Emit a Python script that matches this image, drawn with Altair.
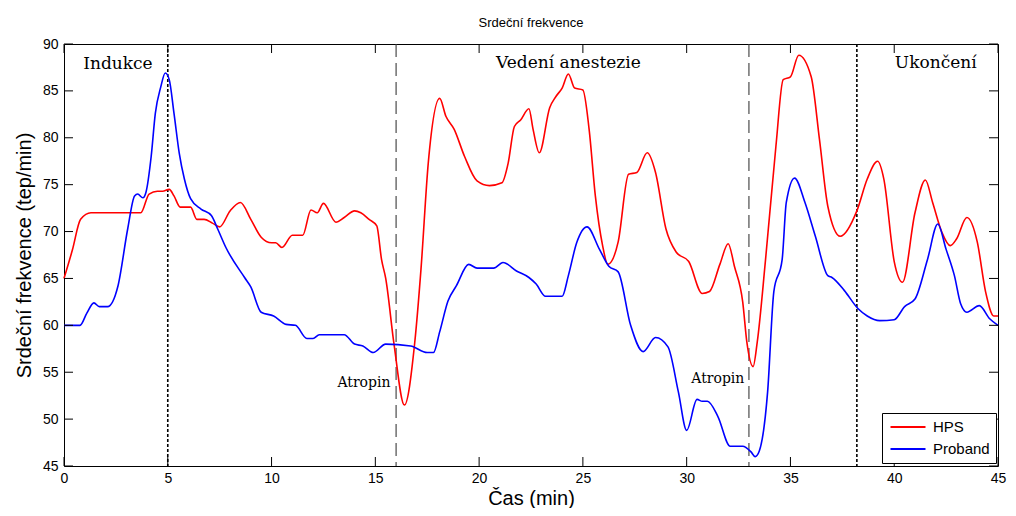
import altair as alt
import pandas as pd

# ---- data ----
hps_t = [0, 0.4, 0.8, 1.3, 2.5, 3.7, 4.1, 4.5, 4.75, 5.07, 5.3, 5.6, 6.1, 6.4, 6.75, 7.15, 7.5, 8.0, 8.5, 9.0,
         9.5, 10.0, 10.2, 10.5, 11.0, 11.5, 11.9, 12.2, 12.5, 13.1, 13.5, 14.0, 14.3, 14.7, 15.07, 15.3, 15.5, 15.9, 16.4, 16.9,
         17.2, 17.55, 18.1, 18.4, 18.8, 19.3, 19.9, 20.5, 21.1, 21.4, 21.7, 22.0, 22.4, 22.6, 22.9, 23.4, 23.7, 24.0, 24.3, 24.6,
         25.0, 25.3, 25.6, 25.95, 26.2, 26.7, 27.2, 27.6, 28.1, 28.5, 29.0, 29.5, 30.1, 30.75, 31.1, 31.6, 32.0, 32.3, 32.7, 32.9,
         33.2, 33.4, 33.8, 34.3, 34.65, 35.0, 35.4, 36.0, 36.4, 36.8, 37.4, 38.2, 38.7, 39.2, 39.5, 40.0, 40.4, 41.0, 41.5, 41.85,
         42.3, 42.7, 43.0, 43.5, 44.0, 44.4, 44.8, 45.0]
hps_v = [65, 68, 71.3, 72, 72, 72, 74, 74.3, 74.3, 74.5, 73.8, 72.6, 72.6, 71.3, 71.3, 70.9, 70.5, 72.2, 73.1, 71.3,
         69.4, 68.8, 68.8, 68.3, 69.6, 69.6, 72.3, 72.0, 73.0, 71.0, 71.5, 72.2, 72.0, 71.3, 70.6, 67, 65, 58, 51.5, 58.2,
         66, 77.3, 84.2, 82.3, 80.9, 78, 75.4, 74.9, 75.2, 77.3, 81.2, 81.9, 83.1, 80.9, 78.4, 83.2, 84.4, 85.3, 86.8, 85.3,
         85.1, 80.9, 73.8, 68.5, 66.5, 68.9, 76.1, 76.3, 78.4, 76.3, 70.3, 67.8, 66.8, 63.4, 63.6, 66.5, 68.7, 66.3, 62.5, 58.2,
         55.6, 58.2, 67, 79.1, 86.2, 86.5, 88.8, 86.5, 79.8, 72.7, 69.5, 72.2, 75.6, 77.5, 75.6, 66.8, 64.6, 72.0, 75.5, 73.1,
         69.9, 68.5, 69.2, 71.5, 68.9, 63.6, 61, 61]

prob_t = [0, 0.77, 1.1, 1.44, 1.7, 2.1, 2.6, 3.07, 3.4, 3.55, 3.8, 3.95, 4.2, 4.4, 4.66, 4.88, 5.07, 5.3, 5.55, 5.8,
          6.1, 6.6, 7.1, 7.4, 7.8, 8.7, 9.0, 9.5, 10.1, 10.7, 11.15, 11.7, 12.0, 12.3, 13.5, 14.0, 14.4, 14.9, 15.5, 16.7,
          17.5, 17.8, 18.1, 18.5, 18.9, 19.5, 19.9, 20.7, 21.15, 21.8, 22.4, 22.75, 23.2, 24.0, 24.3, 24.7, 25.2, 25.8, 26.25, 26.7,
          27.3, 27.9, 28.5, 29.1, 29.6, 30.0, 30.5, 30.75, 31.0, 31.5, 32.1, 32.7, 33.1, 33.3, 33.5, 33.9, 34.2, 34.6, 34.8, 35.2,
          35.7, 36.2, 36.8, 37.0, 37.6, 38.25, 38.7, 39.3, 40.0, 40.5, 41.0, 41.6, 42.1, 42.5, 42.9, 43.2, 43.5, 44.1, 44.6, 45.0]
prob_v = [60, 60, 61.3, 62.4, 62, 62, 64.2, 70.3, 73.8, 74.0, 73.6, 74.2, 78.0, 82.6, 85.4, 86.9, 86.2, 82.6, 78.4, 75.6,
          73.5, 72.4, 71.7, 70.3, 68.3, 65.1, 64.1, 61.4, 61.0, 60.1, 60.0, 58.6, 58.6, 59.0, 59.0, 58.0, 57.8, 57.1, 58.0, 57.8,
          57.1, 57.1, 59.3, 62.6, 64.2, 66.5, 66.1, 66.1, 66.7, 65.8, 65.1, 64.4, 63.1, 63.1, 65.3, 68.8, 70.5, 68.1, 66.3, 65.7,
          60.0, 57.2, 58.7, 57.7, 52.9, 48.8, 52.1, 51.9, 51.9, 50.3, 47.1, 47.1, 46.5, 46.0, 46.6, 52.9, 63.6, 67, 73.1, 75.7,
          73.1, 69.5, 65.3, 65.1, 63.7, 61.8, 61.0, 60.5, 60.6, 62.0, 62.8, 67, 70.8, 68.1, 65.3, 62.3, 61.4, 62.1, 60.7, 60.0]

assert len(hps_t) == len(hps_v) and len(prob_t) == len(prob_v)

series_names = ["HPS", "Proband"]
series_colors = ["#ff0000", "#0000ff"]

dotted_t = [5, 38.2]
dashed_t = [16, 33]

phase_text = ["Indukce", "Vedení anestezie", "Ukončení"]
phase_t = [2.6, 24.3, 42.0]
phase_v = [87.9, 88.0, 88.0]

atropin_text = ["Atropin", "Atropin"]
atropin_t = [14.45, 31.5]
atropin_v = [53.8, 54.3]

x_ticks = [0, 5, 10, 15, 20, 25, 30, 35, 40, 45]
y_ticks = [45, 50, 55, 60, 65, 70, 75, 80, 85, 90]

W, H = 934, 422
TL = 9

df = pd.concat([
    pd.DataFrame({"t": hps_t, "v": hps_v, "s": series_names[0]}),
    pd.DataFrame({"t": prob_t, "v": prob_v, "s": series_names[1]}),
])

x_enc = alt.X("t:Q", scale=alt.Scale(domain=[0, 45], nice=False, zero=False),
              axis=alt.Axis(title="Čas (min)", values=x_ticks, format="d", labelFlush=False))
y_enc = alt.Y("v:Q", scale=alt.Scale(domain=[45, 90], nice=False, zero=False),
              axis=alt.Axis(title="Srdeční frekvence (tep/min)", values=y_ticks, format="d", labelFlush=False))

lines = alt.Chart(df).mark_line(strokeWidth=1.6, interpolate="monotone").encode(
    x=x_enc, y=y_enc,
    color=alt.Color("s:N", scale=alt.Scale(domain=series_names, range=series_colors),
                    legend=alt.Legend(title=None, orient="none", legendX=818, legendY=369,
                                      symbolType="M-2.5,0H2.5", symbolSize=196, symbolStrokeWidth=2,
                                      symbolOffset=12,
                                      labelFontSize=15, labelFont="Liberation Sans", labelColor="black",
                                      strokeColor="black", fillColor="white", padding=6,
                                      rowPadding=6, labelOffset=17)),
    detail="s:N",
    order=alt.Order("t:Q"),
)

vdot = alt.Chart(pd.DataFrame({"t": dotted_t})).mark_rule(color="black", strokeWidth=1.6,
                                                          strokeDash=[3, 2]).encode(x=x_enc)
vdash = alt.Chart(pd.DataFrame({"t": dashed_t})).mark_rule(color="#3a3a3a", strokeWidth=1.1,
                                                           strokeDash=[13, 6]).encode(x=x_enc)

phase = alt.Chart(pd.DataFrame({"t": phase_t, "v": phase_v, "txt": phase_text})).mark_text(
    font="DejaVu Serif", fontSize=17, color="black", align="center", baseline="middle"
).encode(x=x_enc, y=y_enc, text="txt:N")

atro = alt.Chart(pd.DataFrame({"t": atropin_t, "v": atropin_v, "txt": atropin_text})).mark_text(
    font="DejaVu Serif", fontSize=14, color="black", align="center", baseline="middle"
).encode(x=x_enc, y=y_enc, text="txt:N")

xt = pd.DataFrame({"t": x_ticks})
yt = pd.DataFrame({"v": y_ticks})
tick_b = alt.Chart(xt).mark_rule(color="black").encode(x=x_enc, y=alt.value(H), y2=alt.value(H - TL))
tick_t = alt.Chart(xt).mark_rule(color="black").encode(x=x_enc, y=alt.value(0), y2=alt.value(TL))
tick_l = alt.Chart(yt).mark_rule(color="black").encode(y=y_enc, x=alt.value(0), x2=alt.value(TL))
tick_r = alt.Chart(yt).mark_rule(color="black").encode(y=y_enc, x=alt.value(W), x2=alt.value(W - TL))

chart = alt.layer(vdash, vdot, lines, phase, atro, tick_b, tick_t, tick_l, tick_r).properties(
    width=W, height=H,
    title=alt.TitleParams("Srdeční frekvence", fontSize=13, fontWeight="normal",
                          font="Liberation Sans", color="black", offset=7),
    autosize=alt.AutoSizeParams(type="none"),
    padding={"left": 56, "top": 36, "right": 10, "bottom": 42},
).configure_view(stroke="black", strokeWidth=1).configure_axis(
    ticks=False, domain=False, grid=False,
    labelFont="Liberation Sans", labelFontSize=14, labelColor="black",
    titleFont="Liberation Sans", titleFontSize=20, titleFontWeight="normal", titleColor="black",
).configure_axisX(labelPadding=5, titlePadding=3).configure_axisY(labelPadding=6, titlePadding=8)

chart.save("out.html", embed_options={"renderer": "svg", "actions": False})
